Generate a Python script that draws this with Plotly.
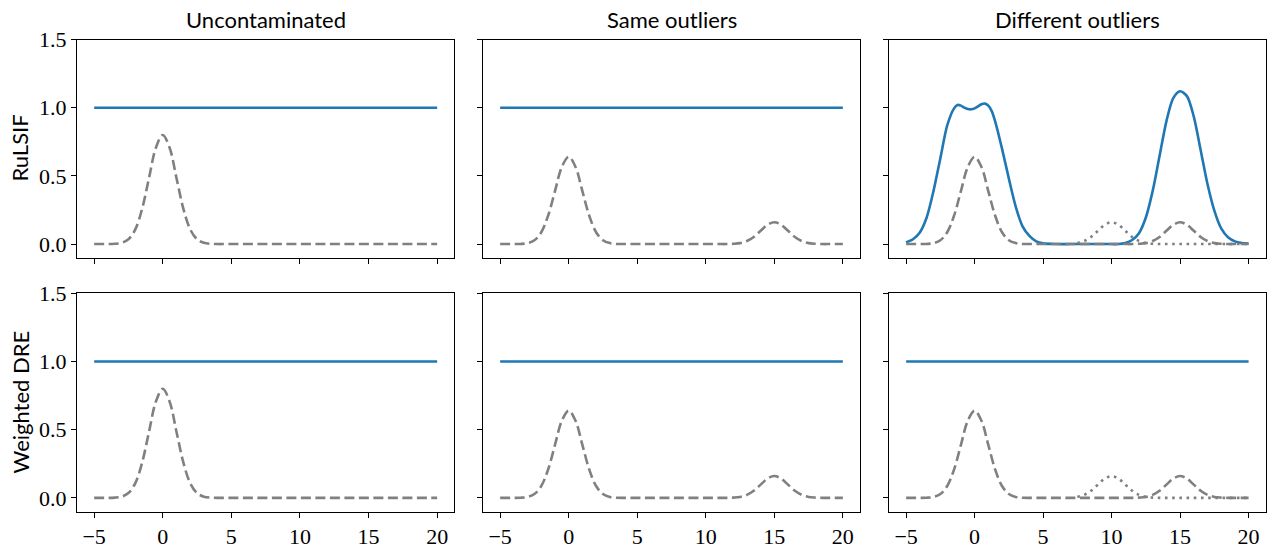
import plotly.graph_objects as go

# ---------------- data ----------------
col_titles = ["Uncontaminated", "Same outliers", "Different outliers"]
row_labels = ["RuLSIF", "Weighted DRE"]

x_grid = [-5, -4.5, -4, -3.5, -3, -2.5, -2, -1.5, -1, -0.5, 0, 0.5, 1, 1.5, 2, 2.5, 3, 3.5, 4, 4.5, 5,
          5.5, 6, 6.5, 7, 7.5, 8, 8.5, 9, 9.5, 10, 10.5, 11, 11.5, 12, 12.5, 13, 13.5, 14, 14.5, 15,
          15.5, 16, 16.5, 17, 17.5, 18, 18.5, 19, 19.5, 20]

# training density, uncontaminated (dashed)
dens_clean = [0.000, 0.000, 0.000, 0.002, 0.009, 0.035, 0.108, 0.260, 0.485, 0.706, 0.800, 0.706, 0.485, 0.260, 0.108, 0.035, 0.009, 0.002, 0.000, 0.000, 0.000,
              0.000, 0.000, 0.000, 0.000, 0.000, 0.000, 0.000, 0.000, 0.000, 0.000, 0.000, 0.000, 0.000, 0.000, 0.000, 0.000, 0.000, 0.000, 0.000, 0.000,
              0.000, 0.000, 0.000, 0.000, 0.000, 0.000, 0.000, 0.000, 0.000, 0.000]

# contaminated density with outliers at 15 (dashed)
dens_outl = [0.000, 0.000, 0.000, 0.001, 0.007, 0.028, 0.087, 0.208, 0.388, 0.565, 0.640, 0.565, 0.388, 0.208, 0.087, 0.028, 0.007, 0.001, 0.000, 0.000, 0.000,
             0.000, 0.000, 0.000, 0.000, 0.000, 0.000, 0.000, 0.000, 0.000, 0.000, 0.000, 0.000, 0.000, 0.002, 0.007, 0.022, 0.052, 0.097, 0.141, 0.160,
             0.141, 0.097, 0.052, 0.022, 0.007, 0.002, 0.000, 0.000, 0.000, 0.000]

# other outlier density around 10 (dotted)
x_dotted = [7.5, 8, 8.5, 9, 9.5, 10, 10.5, 11, 11.5, 12, 12.5, 13, 13.5, 14, 14.5, 15, 15.5, 16, 16.5, 17, 17.5, 18, 18.5, 19, 19.5, 20]
dens_dotted = [0.007, 0.022, 0.052, 0.097, 0.141, 0.160, 0.141, 0.097, 0.052, 0.022, 0.007, 0.002, 0.000, 0.000, 0.000, 0.000, 0.000, 0.000, 0.000, 0.000,
               0.000, 0.000, 0.000, 0.000, 0.000, 0.000]

# flat ratio estimate
x_flat = [-5, 20]
ratio_flat = [1.0, 1.0]

# RuLSIF estimate, different outliers
x_rulsif = [-5, -4.5, -4, -3.5, -3, -2.5, -2, -1.5, -1.25, -1, -0.75, -0.5, -0.25, 0, 0.25, 0.5, 0.75, 1, 1.25, 1.5,
            2, 2.5, 3, 3.5, 4, 4.5, 5, 6, 7, 8, 9, 10, 10.5, 11, 11.5, 12, 12.5, 13, 13.5, 14, 14.5, 15, 15.5,
            16, 16.5, 17, 17.5, 18, 18.5, 19, 19.5, 20]
ratio_rulsif = [0.012, 0.035, 0.085, 0.195, 0.39, 0.63, 0.87, 0.995, 1.02, 1.015, 1.0, 0.99, 0.988, 0.995, 1.01, 1.025, 1.03, 1.015, 0.975, 0.90,
                0.70, 0.48, 0.275, 0.13, 0.06, 0.02, 0.005, 0.0, 0.0, 0.0, 0.0, 0.0, 0.0, 0.008, 0.03, 0.08, 0.195, 0.39, 0.645, 0.90, 1.07, 1.12, 1.085,
                0.935, 0.69, 0.44, 0.245, 0.115, 0.05, 0.02, 0.008, 0.004]

x_ticks = [-5, 0, 5, 10, 15, 20]
x_ticktext = ["\u22125", "0", "5", "10", "15", "20"]
y_ticks = [0.0, 0.5, 1.0, 1.5]
y_ticktext = ["0.0", "0.5", "1.0", "1.5"]

# ---------------- figure ----------------
W, H = 1272, 548
BLUE = "#1f77b4"
GRAY = "#808080"
LW = 2.6

col_px = [(77, 454.3), (483, 860), (889, 1265.7)]
row_px = [(39.5, 257.7), (293.3, 511.5)]

fig = go.Figure()

panels = {
    (0, 0): dict(ratio=(x_flat, ratio_flat), dens=dens_clean, dotted=False),
    (0, 1): dict(ratio=(x_flat, ratio_flat), dens=dens_outl, dotted=False),
    (0, 2): dict(ratio=(x_rulsif, ratio_rulsif), dens=dens_outl, dotted=True),
    (1, 0): dict(ratio=(x_flat, ratio_flat), dens=dens_clean, dotted=False),
    (1, 1): dict(ratio=(x_flat, ratio_flat), dens=dens_outl, dotted=False),
    (1, 2): dict(ratio=(x_flat, ratio_flat), dens=dens_outl, dotted=True),
}

tickfont = dict(family="Liberation Serif, DejaVu Serif, serif", size=22, color="black")

k = 0
for r in range(2):
    for c in range(3):
        k += 1
        xa = "x" if k == 1 else f"x{k}"
        ya = "y" if k == 1 else f"y{k}"
        p = panels[(r, c)]
        fig.add_trace(go.Scatter(x=p["ratio"][0], y=p["ratio"][1], mode="lines",
                                 line=dict(color=BLUE, width=LW, shape="spline", smoothing=0.8),
                                 xaxis=xa, yaxis=ya, showlegend=False, hoverinfo="skip"))
        fig.add_trace(go.Scatter(x=x_grid, y=p["dens"], mode="lines",
                                 line=dict(color=GRAY, width=LW, dash="10px,4.5px", shape="spline", smoothing=1.0),
                                 xaxis=xa, yaxis=ya, showlegend=False, hoverinfo="skip"))
        if p["dotted"]:
            fig.add_trace(go.Scatter(x=x_dotted, y=dens_dotted, mode="lines",
                                     line=dict(color=GRAY, width=LW, dash="2.6px,4.6px", shape="spline", smoothing=1.0),
                                     xaxis=xa, yaxis=ya, showlegend=False, hoverinfo="skip"))
        x0, x1 = col_px[c]
        y0, y1 = row_px[r]
        common = dict(showline=True, mirror=True, linecolor="black", linewidth=1.1,
                      ticks="outside", ticklen=5, tickwidth=1.1, tickcolor="black",
                      showgrid=False, zeroline=False, tickfont=tickfont, fixedrange=True,
                      automargin=False)
        fig.update_layout(**{
            ("xaxis" if k == 1 else f"xaxis{k}"): dict(
                domain=[x0 / W, x1 / W], anchor=ya, range=[-6.25, 21.25],
                tickvals=x_ticks, ticktext=x_ticktext, showticklabels=(r == 1), **common),
            ("yaxis" if k == 1 else f"yaxis{k}"): dict(
                domain=[1 - y1 / H, 1 - y0 / H], anchor=xa, range=[-0.1, 1.5],
                tickvals=y_ticks, ticktext=y_ticktext, showticklabels=(c == 0), **common),
        })

annotations = []
labelfont = dict(family="Lato, Noto Sans, sans-serif", size=22, color="black")
for c, t in enumerate(col_titles):
    x0, x1 = col_px[c]
    annotations.append(dict(text=t, x=(x0 + x1) / 2 / W, y=1 - 20 / H, xref="paper", yref="paper",
                            xanchor="center", yanchor="middle", showarrow=False, font=labelfont))
for r, t in enumerate(row_labels):
    y0, y1 = row_px[r]
    annotations.append(dict(text=t, x=20 / W, y=1 - (y0 + y1) / 2 / H, xref="paper", yref="paper",
                            xanchor="center", yanchor="middle", textangle=-90, showarrow=False,
                            font=labelfont))

fig.update_layout(width=W, height=H, margin=dict(l=0, r=0, t=0, b=0, pad=0, autoexpand=False),
                  paper_bgcolor="white", plot_bgcolor="white", annotations=annotations)

fig.write_html("out.html")
